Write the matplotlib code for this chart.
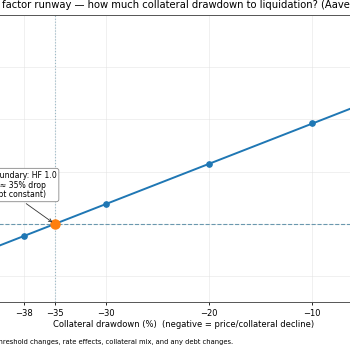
import numpy as np
import matplotlib
matplotlib.use("Agg")
from matplotlib import pyplot as plt

# data
curve_dd = [-45, 0]            # collateral drawdown (%)
curve_hf = [0.846, 1.538]      # health factor
mark_dd = [-38, -30, -20, -10]
mark_hf = [0.954, 1.077, 1.231, 1.385]
liq_dd = -35
liq_hf = 1.0
xticks = [-38, -35, -30, -20, -10, 0]
yticks = [0.8, 1.0, 1.2, 1.4, 1.6, 1.8]

title = "Health factor runway \u2014 how much collateral drawdown to liquidation? (Aave v3)"
note = ("Simplified: HF scales with collateral value only; ignores liquidation "
        "threshold changes, rate effects, collateral mix, and any debt changes.")
label = "Liquidation boundary: HF 1.0\nreached at \u2248 35% drop\n(holding debt constant)"

fig = plt.figure(figsize=(3.5, 3.5), dpi=100)
# the visible window only shows the middle of the original chart
ax_left, ax_w = -14.8, 396.5
ax = fig.add_axes([ax_left / 350, 1 - 302.3 / 350, ax_w / 350, 287.3 / 350])

ax.plot(curve_dd, curve_hf, color="#1f77b4", lw=1.4, zorder=3)
ax.plot(mark_dd, mark_hf, ls="none", marker="o", ms=3.8, color="#1f77b4", zorder=4)
ax.plot([liq_dd], [liq_hf], ls="none", marker="o", ms=6.5, color="#ff7f0e", zorder=5)

ax.axhline(1.0, ls="--", lw=0.8, color="#6a98ae", zorder=2)
ax.axvline(-35, ls=":", lw=0.8, color="#9ab8c6", zorder=2)

ax.annotate(label, xy=(liq_dd, liq_hf), xytext=(-40.3, 1.149),
            ha="center", va="center", fontsize=5.6, linespacing=1.12,
            bbox=dict(boxstyle="round,pad=0.3", fc="white", ec="#888888", lw=0.6),
            arrowprops=dict(arrowstyle="->", color="#333333", lw=0.6), zorder=6)

ax.set_xticks(xticks)
ax.set_yticks(yticks)
ax.set_xlim(-41.75, -3.25)
ax.set_ylim(0.70, 1.80)
ax.grid(True, color="#dddddd", lw=0.5, alpha=0.6)
ax.tick_params(labelsize=6.0, length=2.5, width=0.6, pad=2)
for s in ax.spines.values():
    s.set_linewidth(0.7)
    s.set_color("#555555")

ax.set_xlabel("Collateral drawdown (%)  (negative = price/collateral decline)",
              fontsize=6.0, labelpad=2)

# place the title so that "factor" starts at the left edge of the window
fig.canvas.draw()
r = fig.canvas.get_renderer()
t = fig.text(0, 0, "Health factor", fontsize=7.2)
w_full = t.get_window_extent(r).width
t.set_text("factor")
w_word = t.get_window_extent(r).width
t.remove()
start_px = 2 - (w_full - w_word)
ax.set_title(title, fontsize=7.2, loc="left", x=(start_px - ax_left) / ax_w, pad=5)

fig.text(233 / 350, 1 - 342 / 350, note, ha="right", va="center", fontsize=4.85)

fig.savefig("out.png", dpi=100)
